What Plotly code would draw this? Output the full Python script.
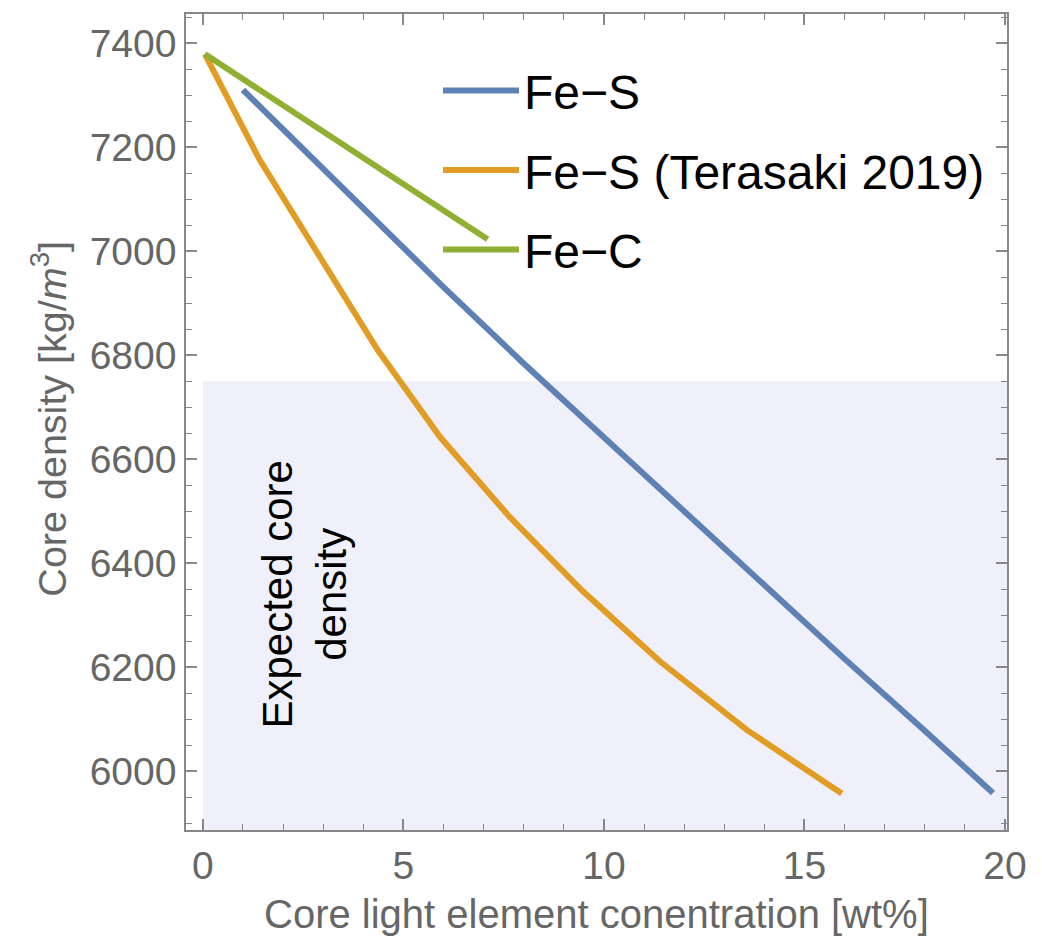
import plotly.graph_objects as go

# ---- data ----
fes_x = [1.0, 2.0, 4.0, 6.0, 8.0, 10.0, 12.0, 14.0, 16.0, 18.0, 19.7]
fes_y = [7310, 7234, 7082, 6931, 6784, 6642, 6497, 6356, 6216, 6078, 5958]

ter_x = [0.05, 1.42, 4.36, 5.92, 7.66, 9.45, 11.4, 13.57, 15.93]
ter_y = [7379, 7175, 6810, 6642, 6488, 6348, 6211, 6079, 5957]

fec_x = [0.05, 7.1]
fec_y = [7379, 7023]

series_names = ["Fe\u2212S", "Fe\u2212S (Terasaki 2019)", "Fe\u2212C"]
series_colors = ["#5E81B5", "#E19C24", "#8FB032"]

shade_x0 = 0
shade_ytop = 6750

x_range = [-0.42, 20.05]
y_range = [5887, 7456]

x_title = "Core light element conentration [wt%]"
y_title = "Core density [kg/<i>m</i><sup>3</sup>]"
shade_label = "Expected core<br>density"

fig = go.Figure()
for (xs, ys), name, col in zip([(fes_x, fes_y), (ter_x, ter_y), (fec_x, fec_y)],
                               series_names, series_colors):
    fig.add_trace(go.Scatter(x=xs, y=ys, mode="lines", name=name, legendgroup=name,
                             line=dict(color=col, width=6)))

fig.add_shape(type="rect", xref="x", yref="y", x0=shade_x0, x1=x_range[1],
              y0=y_range[0], y1=shade_ytop, fillcolor="rgb(240,240,251)",
              line=dict(width=0), layer="below")

fig.add_annotation(x=2.55, y=6340, xref="x", yref="y", text=shade_label,
                   textangle=-90, showarrow=False,
                   font=dict(family="Liberation Sans, Arial", size=42, color="black"))

tickfont = dict(family="Liberation Sans, Arial", size=39, color="#666666")
axis_common = dict(showgrid=False, zeroline=False, showline=True, linecolor="#888888",
                   linewidth=1.5, mirror="ticks", ticks="inside", tickcolor="#888888",
                   tickwidth=1.5, ticklen=11, tickfont=tickfont)

fig.update_xaxes(range=x_range, dtick=5, tick0=0,
                 minor=dict(dtick=1, ticks="inside", ticklen=6, tickcolor="#888888", tickwidth=1.2),
                 **axis_common)
fig.update_yaxes(range=y_range, dtick=200, tick0=6000,
                 minor=dict(dtick=50, ticks="inside", ticklen=6, tickcolor="#888888", tickwidth=1.2),
                 **axis_common)

fig.add_annotation(x=0.5006, y=-0.103, xref="paper", yref="paper", text=x_title,
                   showarrow=False, xanchor="center", yanchor="middle",
                   font=dict(family="Liberation Sans, Arial", size=40, color="#666666"))
fig.add_annotation(x=-0.167, y=0.504, xref="paper", yref="paper", text=y_title,
                   showarrow=False, textangle=-90, xanchor="center", yanchor="middle",
                   font=dict(family="Liberation Sans, Arial", size=39.5, color="#666666"))

fig.update_layout(
    width=1042, height=940,
    margin=dict(l=186, r=35, t=12, b=110),
    plot_bgcolor="white", paper_bgcolor="white",
    showlegend=True,
    legend=dict(x=(438 - 186) / 821, y=(830 - 51) / 818, xanchor="left", yanchor="top",
                bgcolor="rgba(0,0,0,0)", font=dict(family="Liberation Sans, Arial", size=48, color="black"),
                tracegroupgap=14, itemwidth=76),
)

fig.write_html("out.html")
